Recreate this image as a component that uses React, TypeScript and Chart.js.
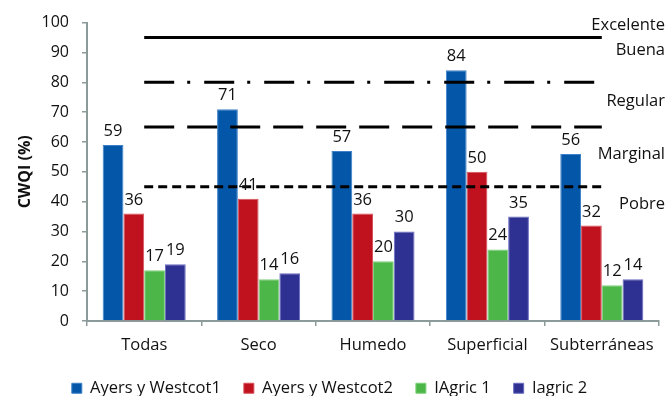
import React, { useEffect, useRef } from "react";
import { Chart, registerables } from "chart.js";

Chart.register(...registerables);

const categories = ["Todas", "Seco", "Humedo", "Superficial", "Subterráneas"];
const ayers1 = [59, 71, 57, 84, 56];
const ayers2 = [36, 41, 36, 50, 32];
const iagric1 = [17, 14, 20, 24, 12];
const iagric2 = [19, 16, 30, 35, 14];

const thresholdExcelente = [95, 95, 95, 95, 95];
const thresholdBuena = [80, 80, 80, 80, 80];
const thresholdRegular = [65, 65, 65, 65, 65];
const thresholdMarginal = [45, 45, 45, 45, 45];

const classLabels = ["Excelente", "Buena", "Regular", "Marginal", "Pobre"];
const classLabelValues = [99.2, 90.6, 73.6, 55.9, 39.0];

const yTicks = [0, 10, 20, 30, 40, 50, 60, 70, 80, 90, 100];

const FONT = "'Open Sans', sans-serif";
const FS = 16.5;
const AXIS_COLOR = "#8c9a9a";

const barLabelPlugin = {
  id: "barLabels",
  afterDatasetsDraw(chart: any) {
    const ctx = chart.ctx;
    ctx.save();
    ctx.font = `${FS}px ${FONT}`;
    ctx.fillStyle = "#111";
    ctx.textAlign = "center";
    ctx.textBaseline = "alphabetic";
    chart.data.datasets.forEach((ds: any, i: number) => {
      if (ds.type !== "bar") return;
      const meta = chart.getDatasetMeta(i);
      meta.data.forEach((el: any, j: number) => {
        ctx.fillText(String(ds.data[j]), el.x, el.y - 9);
      });
    });
    ctx.restore();
  },
  afterDraw(chart: any) {
    const ctx = chart.ctx;
    const y = chart.scales.y;
    ctx.save();
    ctx.font = `${FS}px ${FONT}`;
    ctx.fillStyle = "#111";
    ctx.textAlign = "right";
    ctx.textBaseline = "middle";
    classLabels.forEach((t, i) => {
      ctx.fillText(t, chart.width - 4, y.getPixelForValue(classLabelValues[i]));
    });
    ctx.restore();
  },
};

function lineDs(data: number[], dash: number[]) {
  return {
    type: "line" as const,
    label: "",
    data,
    borderColor: "#000",
    borderWidth: 3,
    borderDash: dash,
    pointRadius: 0,
    fill: false,
    order: 1,
  };
}

function barDs(label: string, data: number[], color: string, border: string) {
  return {
    type: "bar" as const,
    label,
    data,
    backgroundColor: color,
    borderColor: border,
    borderWidth: 1,
    barPercentage: 1,
    categoryPercentage: 0.726,
    order: 2,
  };
}

export default function App() {
  const ref = useRef<HTMLCanvasElement>(null);
  useEffect(() => {
    if (!ref.current) return;
    const chart = new Chart(ref.current, {
      type: "bar",
      data: {
        labels: categories,
        datasets: [
          barDs("Ayers y Westcot1", ayers1, "#0457a8", "#3d82c8"),
          barDs("Ayers y Westcot2", ayers2, "#c0111f", "#d8505a"),
          barDs("IAgric 1", iagric1, "#4cb648", "#7fd07a"),
          barDs("Iagric 2", iagric2, "#2e3192", "#6a6cc0"),
          lineDs(thresholdExcelente, []),
          lineDs(thresholdBuena, [30, 13, 3, 14]),
          lineDs(thresholdRegular, [30, 13]),
          lineDs(thresholdMarginal, [9, 5]),
        ] as any,
      },
      options: {
        animation: false,
        responsive: false,
        layout: { padding: { left: 0, right: 10, top: 12, bottom: 0 } },
        plugins: {
          tooltip: { enabled: false },
          legend: {
            position: "bottom",
            maxHeight: 39,
            labels: {
              filter: (item: any) => item.text !== "",
              boxWidth: 10,
              boxHeight: 10,
              color: "#111",
              font: { family: FONT, size: FS },
              padding: 23,
            },
          },
        },
        scales: {
          x: {
            afterFit: (scale: any) => {
              scale.height = 36;
            },
            grid: {
              drawOnChartArea: false,
              drawTicks: true,
              tickLength: 5,
              color: AXIS_COLOR,
              lineWidth: 1.5,
            },
            border: { display: true, color: AXIS_COLOR, width: 2 },
            ticks: {
              color: "#111",
              font: { family: FONT, size: FS },
              padding: 9,
            },
          },
          y: {
            min: 0,
            max: 100,
            afterBuildTicks: (scale: any) => {
              scale.ticks = yTicks.map((v) => ({ value: v }));
            },
            afterFit: (scale: any) => {
              scale.width = 87;
            },
            grid: {
              drawOnChartArea: false,
              drawTicks: true,
              tickLength: 5,
              color: AXIS_COLOR,
              lineWidth: 1.5,
            },
            border: { display: true, color: AXIS_COLOR, width: 2 },
            ticks: {
              color: "#111",
              font: { family: FONT, size: 16 },
              padding: 13,
            },
            title: {
              display: true,
              text: "CWQI (%)",
              color: "#111",
              font: { family: FONT, size: 16, weight: "bold" },
              padding: { top: 16, bottom: 0 },
            },
          },
        },
      },
      plugins: [barLabelPlugin],
    });
    return () => chart.destroy();
  }, []);
  return (
    <div style={{ position: "fixed", left: 0, top: 0, width: 669, height: 396, background: "#fff" }}>
      <canvas ref={ref} width={669} height={396} style={{ width: 669, height: 396 }} />
    </div>
  );
}
